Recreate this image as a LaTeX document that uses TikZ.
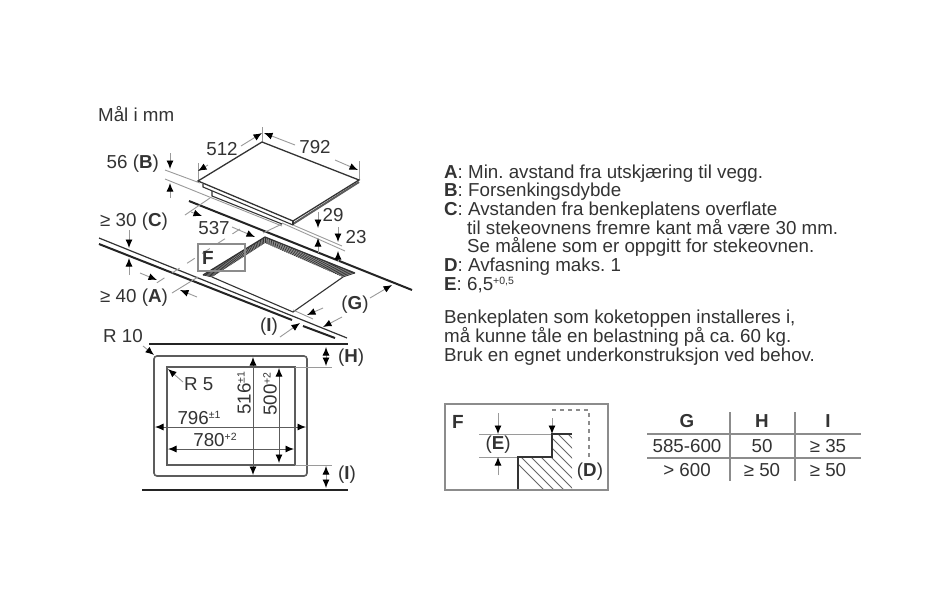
\documentclass[tikz,border=0pt]{standalone}
\usepackage{fontspec}
\setmainfont{Liberation Sans}
\usetikzlibrary{arrows.meta,patterns,calc}
\definecolor{ink}{HTML}{333333}
\definecolor{ext}{HTML}{9A9A9A}
\definecolor{boxg}{HTML}{8C8C8C}
\newcommand{\sx}[1]{\raisebox{6pt}{\fontsize{10.5}{10.5}\selectfont #1}}
\tikzset{
  x=1pt,y=-1pt,
  txt/.style={font=\fontsize{18.75}{18.75}\selectfont\frenchspacing,text=ink,inner sep=0pt},
  lbl/.style={font=\fontsize{18.75}{18.75}\selectfont,text=ink,inner sep=0pt},
  body/.style={txt,anchor=base west},
  tip/.style={-{Latex[length=8.5pt,width=7pt,color=black]}},
  dtip/.style={{Latex[length=8.5pt,width=7pt,color=black]}-{Latex[length=8.5pt,width=7pt,color=black]}},
  dim/.style={draw=ext,line width=0.9pt},
  heavy/.style={draw=ink!70!black,line width=2pt},
  graybox/.style={draw=boxg,line width=2.4pt},
  plan/.style={draw=ink!80,line width=1.6pt},
  tabrule/.style={draw=boxg,line width=1.2pt},
}
\begin{document}
\begin{tikzpicture}
\useasboundingbox (0,0) rectangle (950,595);
\fill[white] (0,0) rectangle (950,595);

\node[txt,anchor=west] (title) at (98,114) {Mål i mm};

% --- cut-out in the worktop
\draw[draw=ink,line width=1.1pt] (343,277) -- (293,312) -- (212,277);
\fill[gray!90] (265,237) -- (355,273) -- (343,277) -- (265,243) -- (212,277) -- (203,275) -- cycle;
\foreach \t in {0,0.025,...,1.0}{
  \draw[ink,line width=0.7pt] ($(265,237)!\t!(355,273)$) -- ($(265,243)!\t!(343,277)$);
  \draw[ink,line width=0.7pt] ($(265,237)!\t!(203,275)$) -- ($(265,243)!\t!(212,277)$);
}
\draw[ink,line width=1.2pt] (203,275) -- (265,237) -- (355,273);

% --- worktop edges
\draw[heavy] (189,201) -- (412,290);
\draw[draw=ink,line width=1.2pt] (99,238) -- (347,338);
\draw[heavy] (99,244) -- (292,320);
\draw[heavy] (303,326) -- (335,338);

% --- extension lines
\draw[dim] (165,170) -- (200,183);
\draw[dim] (165,179) -- (212,198);
\draw[dim] (212,198) -- (282,226);
\draw[dim] (293,225) -- (342,246);
\draw[dim] (282,223) -- (345,251);
\draw[dim] (210,198) -- (185,215);
\draw[dim] (282,224) -- (263,233);
\draw[dim,dash pattern=on 9pt off 9pt] (240,229) -- (155,284);
\draw[dim] (198,277) -- (172,293);
\draw[dim] (293,310) -- (313,319);
\draw[dim] (198,163) -- (198,181);
\draw[dim] (262,127) -- (262,142);
\draw[dim] (359,161) -- (359,180);

% --- cooktop
\fill[white] (198,181) -- (262,142) -- (359,180) -- (359,182) -- (293,225) -- (212,195) -- cycle;
\draw[draw=ink,line width=1.3pt] (198,181) -- (262,142) -- (359,180) -- (293,221) -- cycle;
\draw[draw=ink!80,line width=2pt] (359,182) -- (293,224);
\draw[draw=ink,line width=1.1pt] (293,221) -- (293,225);
\draw[draw=ink,line width=1.1pt] (203,184) -- (203,187) -- (293,225);
\draw[draw=ink,line width=1.1pt] (212,191) -- (212,196) -- (282,224);

% --- F callout box on the worktop
\draw[graybox] (198,244) rectangle (245,271);
\node[lbl,font=\fontsize{19}{19}\selectfont\bfseries] (fa) at (208,258) {F};

% --- dimensions on the cooktop
\node[lbl] (d512) at (222,149) {512};
\node[lbl] (d792) at (315,147) {792};
\draw[dim,tip] (208,165) -- (198,171);
\draw[dim,tip] (241,146) -- (262,133);
\draw[dim,tip] (295,145) -- (264,133);
\draw[dim,tip] (335,160) -- (358,170);

\node[lbl,anchor=east] (d56) at (159,164) {56 (\textbf{B})};
\draw[dim,tip] (170,153) -- (170,169);
\draw[dim,tip] (170,198) -- (170,183);

\node[lbl] (d29) at (333,215) {29};
\draw[dim,tip] (318,212) -- (318,228);
\draw[dim,tip] (318,253) -- (318,238);
\node[lbl] (d23) at (356,237) {23};
\draw[dim,tip] (338,227) -- (338,242);
\draw[dim,tip] (338,262) -- (338,251);

\node[lbl] (d537) at (214,228) {537};
\draw[dim,tip] (191,212) -- (202,216);
\draw[dim,tip] (232,227) -- (255,237);

\node[lbl,anchor=west] (dc) at (100,222) {≥ 30 (\textbf{C})};
\draw[dim,tip] (129,230) -- (129,248);
\draw[dim,tip] (129,275) -- (129,258);

\node[lbl,anchor=west] (da) at (100,298) {≥ 40 (\textbf{A})};
\draw[dim,tip] (140,273) -- (157,280);
\draw[dim,tip] (197,297) -- (180,290);

\node[lbl] (di1) at (269,327) {(\textbf{I})};
\draw[dim,tip] (280,337) -- (300,323);
\draw[dim,tip] (323,308) -- (307,315);
\node[lbl] (dg) at (355,305) {(\textbf{G})};
\draw[dim,tip] (370,298) -- (392,285);
\draw[dim,tip] (342,317) -- (323,327);

% --- plan view
\draw[heavy] (149,344) -- (348,344);
\draw[heavy] (142,490) -- (348,490);
\draw[plan,rounded corners=3pt] (154,356) rectangle (307,476);
\draw[plan] (167,367) rectangle (295,465);
\draw[dim] (295,367) -- (332,367);
\draw[dim] (295,465) -- (332,465);
\node[lbl,anchor=west] (r10) at (103,336) {R 10};
\draw[dim,tip] (143,346) -- (154,355);
\node[lbl,anchor=west] (r5) at (184,384) {R 5};
\draw[dim,tip] (183,382) -- (168,369);
\draw[dim,dtip] (326,347) -- (326,366);
\draw[dim,dtip] (326,466) -- (326,488);
\node[lbl,anchor=west] (dh) at (338,358) {(\textbf{H})};
\node[lbl,anchor=west] (di2) at (338,475) {(\textbf{I})};
\draw[draw=ink!80,line width=0.9pt,dtip] (253,357) -- (253,475);
\draw[draw=ink!80,line width=0.9pt,dtip] (279,368) -- (279,463);
\draw[draw=ink!80,line width=0.9pt,dtip] (155,427) -- (306,427);
\draw[draw=ink!80,line width=0.9pt,dtip] (168,449) -- (294,449);
\node[lbl,rotate=90] (d516) at (244,393) {516\sx{±1}};
\node[lbl,rotate=90] (d500) at (270,394) {500\sx{+2}};
\node[lbl] (d796) at (199,418) {796\sx{±1}};
\node[lbl] (d780) at (215,440) {780\sx{+2}};

% --- text block
\node[body] (t1) at (444,178) {\textbf{A}: Min. avstand fra utskjæring til vegg.};
\node[body] (t2) at (444,196) {\textbf{B}: Forsenkingsdybde};
\node[body] (t3) at (444,215) {\textbf{C}: Avstanden fra benkeplatens overflate};
\node[body] (t4) at (467,234) {til stekeovnens fremre kant må være 30 mm.};
\node[body] (t5) at (467,252) {Se målene som er oppgitt for stekeovnen.};
\node[body] (t6) at (444,271) {\textbf{D}: Avfasning maks. 1};
\node[body] (t7) at (444,290) {\textbf{E}: 6,5\sx{+0,5}};
\node[body] (t8) at (444,323) {Benkeplaten som koketoppen installeres i,};
\node[body] (t9) at (444,342) {må kunne tåle en belastning på ca. 60 kg.};
\node[body] (t10) at (444,361) {Bruk en egnet underkonstruksjon ved behov.};

% --- detail F
\begin{scope}
\clip (518,457) -- (552,457) -- (552,434) -- (572,434) -- (572,489) -- (518,489) -- cycle;
\foreach \k in {-66,-56,...,60}{
  \draw[ink!75,line width=0.8pt] (545+\k,425) -- (545+\k+70,495);
}
\end{scope}
\draw[graybox] (445,404) rectangle (608,490);
\node[lbl,font=\fontsize{19}{19}\selectfont\bfseries] (fb) at (458,422) {F};
\draw[dim] (479,434) -- (552,434);
\draw[dim] (479,457) -- (518,457);
\draw[draw=ink,line width=1.3pt] (572,434) -- (552,434) -- (552,457) -- (518,457) -- (518,489);
\draw[dim,tip] (498,413) -- (498,434);
\draw[dim,tip] (498,475) -- (498,457);
\draw[dim,tip] (552,418) -- (552,434);
\draw[draw=boxg,line width=1.3pt,dash pattern=on 4pt off 4pt] (552,410) -- (589,410) -- (589,458);
\node[lbl] (de) at (498,445) {(\textbf{E})};
\node[lbl] (dd) at (590,472) {(\textbf{D})};

% --- table
\draw[tabrule] (647,434) -- (861,434);
\draw[tabrule] (647,458) -- (861,458);
\draw[tabrule] (730,412) -- (730,481);
\draw[tabrule] (795,412) -- (795,481);
\node[lbl] (g0) at (687,421) {\textbf{G}};
\node[lbl] (h0) at (762,421) {\textbf{H}};
\node[lbl] (i0) at (828,421) {\textbf{I}};
\node[lbl] (g1) at (687,446) {585-600};
\node[lbl] (h1) at (762,446) {50};
\node[lbl] (i1) at (828,446) {≥ 35};
\node[lbl] (g2) at (687,470) {> 600};
\node[lbl] (h2) at (762,470) {≥ 50};
\node[lbl] (i2) at (828,470) {≥ 50};
\end{tikzpicture}
\end{document}
